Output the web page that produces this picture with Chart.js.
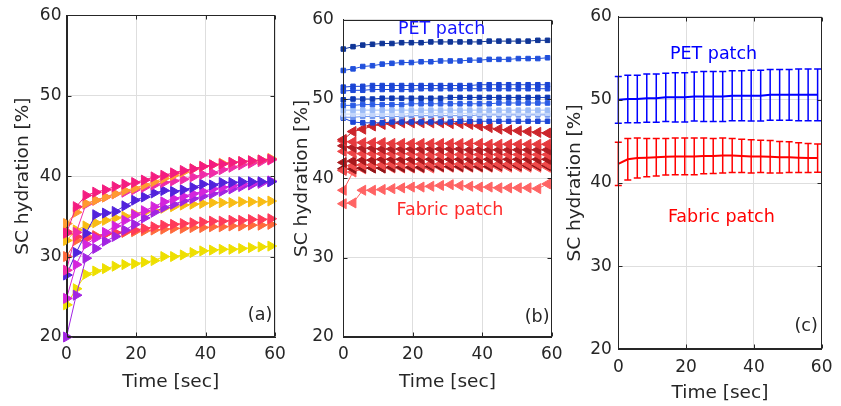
<!DOCTYPE html>
<html>
<head>
<meta charset="utf-8">
<script src="https://cdn.jsdelivr.net/npm/chart.js@4.4.1/dist/chart.umd.min.js"></script>
<style>
  html, body { margin: 0; padding: 0; background: #fff; }
  #wrap { position: relative; width: 841px; height: 406px; }
  #wrap canvas { position: absolute; left: 0; top: 0; }
</style>
</head>
<body>
<div id="wrap">
  <canvas id="panelA" width="841" height="406"></canvas>
  <canvas id="panelB" width="841" height="406"></canvas>
  <canvas id="panelC" width="841" height="406"></canvas>
</div>
<script>
// sampling times (s), shared by all three panels
const seconds = [0, 2.8, 5.6, 8.4, 11.2, 14, 16.8, 19.6, 22.4, 25.2, 28, 30.8, 33.6, 36.4, 39.2, 42, 44.8, 47.6, 50.4, 53.2, 56, 58.8];
const xTicks = [0, 20, 40, 60];
const yTicks = [20, 30, 40, 50, 60];

// (a) individual subjects
const violetA  = [27.7, 30.5, 32.9, 35.2, 35.4, 35.6, 36.3, 37.0, 37.4, 37.9, 38.2, 38.1, 38.3, 38.6, 39.0, 38.9, 39.2, 39.2, 39.3, 39.3, 39.3, 39.3];
const purpleA  = [20.0, 25.2, 29.8, 31.0, 31.9, 32.5, 33.3, 34.0, 34.8, 35.5, 36.1, 36.5, 36.9, 37.2, 37.5, 37.8, 38.1, 38.4, 38.7, 38.9, 39.1, 39.3];
const magentaA = [24.8, 29.0, 31.5, 32.3, 33.0, 33.8, 34.5, 35.2, 35.7, 36.2, 36.8, 37.2, 37.5, 37.8, 38.1, 38.4, 38.6, 38.8, 39.0, 39.1, 39.2, 39.4];
const hotPinkA = [28.3, 33.0, 36.5, 37.0, 37.4, 37.8, 38.0, 38.3, 38.6, 38.9, 39.2, 39.4, 39.6, 39.9, 40.2, 40.4, 40.8, 41.1, 41.4, 41.6, 41.8, 42.0];
const pinkA    = [32.9, 36.2, 37.6, 38.0, 38.3, 38.7, 39.0, 39.2, 39.5, 39.9, 40.1, 40.4, 40.7, 40.9, 41.2, 41.4, 41.5, 41.7, 41.8, 41.9, 42.0, 42.1];
const orangeA  = [34.1, 35.5, 36.6, 37.0, 37.4, 37.8, 38.2, 38.5, 38.9, 39.3, 39.7, 40.1, 40.5, 40.9, 41.2, 41.4, 41.6, 41.7, 41.8, 41.9, 42.0, 42.2];
const redA     = [33.1, 32.5, 32.2, 32.5, 32.8, 33.0, 33.1, 33.3, 33.5, 33.7, 33.9, 34.0, 34.1, 34.2, 34.3, 34.4, 34.4, 34.5, 34.5, 34.6, 34.6, 34.7];
const coralA   = [30.0, 32.0, 32.5, 32.6, 32.8, 32.9, 33.0, 33.1, 33.2, 33.3, 33.4, 33.5, 33.5, 33.6, 33.6, 33.7, 33.7, 33.8, 33.8, 33.9, 33.9, 34.0];
const goldA    = [32.0, 33.3, 33.8, 34.2, 34.5, 34.8, 35.0, 35.3, 35.5, 35.7, 36.0, 36.2, 36.4, 36.5, 36.6, 36.7, 36.7, 36.7, 36.8, 36.8, 36.8, 36.9];
const yellowA  = [24.0, 26.0, 27.8, 28.2, 28.5, 28.8, 29.0, 29.1, 29.3, 29.5, 30.0, 30.0, 30.2, 30.5, 30.7, 30.8, 30.9, 30.9, 31.0, 31.1, 31.2, 31.3];

// (b) PET patch runs
const pet1 = [56.3, 56.6, 56.8, 56.9, 57.0, 57.0, 57.1, 57.1, 57.1, 57.2, 57.2, 57.2, 57.2, 57.2, 57.2, 57.3, 57.3, 57.3, 57.3, 57.3, 57.4, 57.4];
const pet2 = [53.6, 53.8, 54.1, 54.2, 54.4, 54.5, 54.6, 54.6, 54.7, 54.7, 54.8, 54.8, 54.8, 54.9, 54.9, 55.0, 55.0, 55.0, 55.1, 55.1, 55.1, 55.2];
const pet3 = [51.5, 51.6, 51.6, 51.7, 51.7, 51.7, 51.7, 51.7, 51.7, 51.7, 51.7, 51.7, 51.7, 51.7, 51.8, 51.8, 51.8, 51.8, 51.8, 51.8, 51.8, 51.8];
const pet4 = [51.0, 51.1, 51.1, 51.2, 51.2, 51.2, 51.2, 51.2, 51.3, 51.3, 51.3, 51.3, 51.3, 51.3, 51.3, 51.3, 51.3, 51.3, 51.3, 51.3, 51.3, 51.3];
const pet5 = [49.9, 50.0, 50.0, 50.0, 50.1, 50.1, 50.1, 50.1, 50.1, 50.1, 50.1, 50.2, 50.2, 50.2, 50.2, 50.2, 50.2, 50.2, 50.2, 50.2, 50.2, 50.2];
const pet6 = [49.2, 49.2, 49.3, 49.3, 49.3, 49.3, 49.3, 49.4, 49.4, 49.4, 49.4, 49.4, 49.4, 49.4, 49.4, 49.4, 49.5, 49.5, 49.5, 49.5, 49.5, 49.5];
const pet7 = [48.6, 48.6, 48.6, 48.6, 48.6, 48.6, 48.6, 48.6, 48.6, 48.6, 48.6, 48.6, 48.6, 48.6, 48.6, 48.6, 48.6, 48.6, 48.6, 48.6, 48.6, 48.6];
const pet8 = [48.1, 48.1, 48.1, 48.1, 48.1, 48.1, 48.1, 48.2, 48.2, 48.2, 48.2, 48.2, 48.2, 48.2, 48.2, 48.2, 48.2, 48.2, 48.2, 48.2, 48.2, 48.2];
const pet9 = [47.7, 47.7, 47.8, 47.8, 47.8, 47.8, 47.8, 47.9, 47.9, 47.9, 47.9, 47.9, 47.9, 47.9, 48.0, 48.0, 48.0, 48.0, 48.0, 48.0, 48.0, 48.0];
const pet10 = [47.6, 47.1, 47.0, 47.0, 47.0, 47.1, 47.1, 47.1, 47.1, 47.1, 47.1, 47.1, 47.2, 47.2, 47.2, 47.2, 47.2, 47.2, 47.2, 47.2, 47.2, 47.2];

// (b) fabric patch runs
const fab1 = [44.9, 45.9, 46.2, 46.6, 46.8, 46.9, 47.0, 47.0, 47.0, 47.0, 47.0, 46.9, 46.9, 46.8, 46.6, 46.4, 46.2, 46.1, 46.0, 45.9, 45.8, 45.7];
const fab2 = [44.7, 44.6, 44.5, 44.5, 44.5, 44.4, 44.4, 44.4, 44.4, 44.4, 44.4, 44.4, 44.4, 44.4, 44.4, 44.3, 44.3, 44.3, 44.3, 44.3, 44.3, 44.3];
const fab3 = [44.1, 43.9, 43.8, 43.8, 43.7, 43.7, 43.7, 43.7, 43.7, 43.7, 43.7, 43.7, 43.7, 43.6, 43.6, 43.6, 43.6, 43.6, 43.6, 43.6, 43.6, 43.6];
const fab4 = [43.4, 43.2, 43.1, 43.1, 43.1, 43.1, 43.1, 43.1, 43.0, 43.0, 43.0, 43.0, 43.0, 43.0, 43.0, 43.0, 43.0, 43.0, 43.0, 43.0, 43.0, 43.0];
const fab5 = [42.0, 42.2, 42.3, 42.3, 42.4, 42.4, 42.4, 42.4, 42.4, 42.4, 42.4, 42.4, 42.4, 42.4, 42.4, 42.4, 42.4, 42.4, 42.4, 42.4, 42.4, 42.4];
const fab6 = [41.0, 41.6, 41.7, 41.7, 41.7, 41.8, 41.8, 41.8, 41.8, 41.8, 41.8, 41.8, 41.8, 41.8, 41.8, 41.8, 41.8, 41.8, 41.8, 41.8, 41.8, 41.8];
const fab7 = [41.2, 41.2, 41.3, 41.3, 41.3, 41.4, 41.4, 41.4, 41.4, 41.5, 41.5, 41.5, 41.5, 41.5, 41.5, 41.5, 41.6, 41.6, 41.6, 41.6, 41.6, 41.6];
const fab8 = [38.5, 40.8, 41.2, 41.3, 41.3, 41.3, 41.3, 41.3, 41.3, 41.3, 41.4, 41.4, 41.4, 41.4, 41.4, 41.4, 41.4, 41.4, 41.4, 41.4, 41.4, 41.4];
const fab9 = [36.8, 36.9, 38.5, 38.5, 38.6, 38.7, 38.8, 38.9, 38.9, 39.0, 39.1, 39.2, 39.1, 39.0, 38.9, 38.9, 38.8, 38.8, 38.8, 38.8, 38.7, 39.3];

// (c) mean and standard deviation per patch
const petMean = [50.0, 50.1, 50.1, 50.2, 50.2, 50.3, 50.3, 50.3, 50.4, 50.4, 50.4, 50.4, 50.5, 50.5, 50.5, 50.5, 50.6, 50.6, 50.6, 50.6, 50.6, 50.6];
const petSd   = [2.8, 2.85, 2.85, 2.9, 2.9, 2.9, 2.95, 2.95, 2.95, 3.0, 3.0, 3.0, 3.0, 3.0, 3.05, 3.05, 3.05, 3.05, 3.05, 3.1, 3.1, 3.1];
const fabMean = [42.3, 42.85, 43.0, 43.05, 43.1, 43.15, 43.2, 43.2, 43.2, 43.25, 43.25, 43.3, 43.3, 43.25, 43.2, 43.2, 43.15, 43.1, 43.1, 43.05, 43.0, 43.0];
const fabSd   = [2.6, 2.5, 2.4, 2.3, 2.25, 2.2, 2.2, 2.2, 2.2, 2.15, 2.1, 2.1, 2.05, 2.0, 2.0, 1.95, 1.95, 1.9, 1.85, 1.8, 1.75, 1.7];

const ink = '#262626';
const gridColor = '#dedede';
const FONT = '"DejaVu Sans", Arial, sans-serif';

const xy = arr => arr.map((v, i) => ({ x: seconds[i], y: v }));

function markerLine(values, color, style, rotation, radius) {
  return {
    data: xy(values),
    borderColor: color,
    borderWidth: 1,
    pointStyle: style,
    pointRotation: rotation,
    pointRadius: radius,
    pointBackgroundColor: color,
    pointBorderColor: color,
    pointBorderWidth: 1,
    tension: 0,
    clip: false
  };
}

// box, inward ticks, error bars and text notes
const matlabAxes = {
  id: 'matlabAxes',
  afterDatasetsDraw(chart) {
    const { ctx, scales: { x, y } } = chart;
    ctx.save();
    chart.data.datasets.forEach(ds => {
      if (!ds.errorBars) return;
      ctx.strokeStyle = ds.borderColor;
      ctx.lineWidth = 1.5;
      ds.data.forEach((p, i) => {
        const px = x.getPixelForValue(p.x);
        const top = y.getPixelForValue(p.y + ds.errorBars[i]);
        const bot = y.getPixelForValue(p.y - ds.errorBars[i]);
        ctx.beginPath();
        ctx.moveTo(px, top); ctx.lineTo(px, bot);
        ctx.moveTo(px - 3.5, top); ctx.lineTo(px + 3.5, top);
        ctx.moveTo(px - 3.5, bot); ctx.lineTo(px + 3.5, bot);
        ctx.stroke();
      });
    });
    ctx.restore();
  },
  afterDraw(chart, args, opts) {
    const { ctx, chartArea: a, scales: { x, y } } = chart;
    ctx.save();
    ctx.strokeStyle = ink;
    ctx.lineWidth = 1;
    const l = Math.round(a.left) + 0.5, r = Math.round(a.right) - 0.5;
    const t = Math.round(a.top) + 0.5, b = Math.round(a.bottom) - 0.5;
    ctx.strokeRect(l, t, r - l, b - t);
    ctx.beginPath();
    xTicks.forEach(v => {
      const px = Math.round(x.getPixelForValue(v)) + 0.5;
      ctx.moveTo(px, b); ctx.lineTo(px, b - 4);
      ctx.moveTo(px, t); ctx.lineTo(px, t + 4);
    });
    yTicks.forEach(v => {
      const py = Math.round(y.getPixelForValue(v)) + 0.5;
      ctx.moveTo(l, py); ctx.lineTo(l + 4, py);
      ctx.moveTo(r, py); ctx.lineTo(r - 4, py);
    });
    ctx.stroke();
    ctx.textAlign = 'center';
    ctx.textBaseline = 'middle';
    (opts.notes || []).forEach(n => {
      ctx.fillStyle = n.color;
      ctx.font = n.size + 'px ' + FONT;
      ctx.fillText(n.text, x.getPixelForValue(n.x), y.getPixelForValue(n.y));
    });
    ctx.restore();
  }
};

function panelOptions(p) {
  return {
    responsive: false,
    animation: false,
    events: [],
    layout: { padding: { left: p.padLeft, right: 841 - p.plotRight, top: 15, bottom: 0 } },
    plugins: {
      legend: { display: false },
      tooltip: { enabled: false },
      matlabAxes: { notes: p.notes }
    },
    scales: {
      x: {
        type: 'linear', min: 0, max: 60,
        afterBuildTicks: s => { s.ticks = xTicks.map(v => ({ value: v })); },
        ticks: { color: ink, font: { family: FONT, size: 17 }, padding: p.xTickPad, maxRotation: 0 },
        grid: { color: gridColor, drawTicks: false },
        border: { color: ink },
        title: { display: true, text: 'Time [sec]', color: ink, font: { family: FONT, size: 18.5 }, padding: { top: 0, bottom: p.xTitlePad } },
        afterFit: s => { s.height = 406 - p.plotBottom; }
      },
      y: {
        type: 'linear', min: 20, max: 60,
        afterBuildTicks: s => { s.ticks = yTicks.map(v => ({ value: v })); },
        ticks: { color: ink, font: { family: FONT, size: 17 }, padding: p.yTickPad },
        grid: { color: gridColor, drawTicks: false },
        border: { color: ink },
        title: { display: true, text: 'SC hydration [%]', color: ink, font: { family: FONT, size: 18.5 }, padding: { top: p.yTitlePad, bottom: 0 } },
        afterFit: s => { s.width = p.plotLeft - p.padLeft; }
      }
    }
  };
}

// (a)
new Chart(document.getElementById('panelA'), {
  type: 'line',
  data: {
    datasets: [
      markerLine(pinkA, '#f41c80', 'triangle', 90, 5.8),
      markerLine(orangeA, '#ff9a30', 'triangle', 90, 5.8),
      markerLine(hotPinkA, '#f02ca8', 'triangle', 90, 5.8),
      markerLine(violetA, '#5222dc', 'triangle', 90, 5.8),
      markerLine(magentaA, '#d424dc', 'triangle', 90, 5.8),
      markerLine(purpleA, '#a224e2', 'triangle', 90, 5.8),
      markerLine(goldA, '#f8bc14', 'triangle', 90, 5.8),
      markerLine(redA, '#ff3a5a', 'triangle', 90, 5.8),
      markerLine(coralA, '#ff6a3c', 'triangle', 90, 5.8),
      markerLine(yellowA, '#eedf00', 'triangle', 90, 5.8)
    ]
  },
  options: panelOptions({
    padLeft: 0, plotLeft: 66.5, plotRight: 275, plotBottom: 337,
    yTickPad: 5, yTitlePad: 12, xTickPad: 7.8, xTitlePad: 13.2,
    notes: [{ text: '(a)', x: 55.7, y: 22.7, color: ink, size: 17.5 }]
  }),
  plugins: [matlabAxes]
});

// (b)
new Chart(document.getElementById('panelB'), {
  type: 'line',
  data: {
    datasets: [
      markerLine(pet1, '#0f3597', 'rect', 0, 3.2),
      markerLine(pet2, '#2150dc', 'rect', 0, 3.2),
      markerLine(pet3, '#1a44d4', 'rect', 0, 3.2),
      markerLine(pet4, '#1e4ada', 'rect', 0, 3.2),
      markerLine(pet5, '#0e38b4', 'rect', 0, 3.2),
      markerLine(pet6, '#2b5ce6', 'rect', 0, 3.2),
      markerLine(pet7, '#9dbcf7', 'rect', 0, 3.2),
      markerLine(pet8, '#c4d6fa', 'rect', 0, 3.2),
      markerLine(pet9, '#6f95ef', 'rect', 0, 3.2),
      markerLine(pet10, '#1c45d6', 'rect', 0, 3.2),
      markerLine(fab1, '#cc262c', 'triangle', 270, 5.8),
      markerLine(fab2, '#e63a3e', 'triangle', 270, 5.8),
      markerLine(fab3, '#b21e24', 'triangle', 270, 5.8),
      markerLine(fab4, '#ee4446', 'triangle', 270, 5.8),
      markerLine(fab5, '#a8181c', 'triangle', 270, 5.8),
      markerLine(fab6, '#f04a4a', 'triangle', 270, 5.8),
      markerLine(fab7, '#8e1418', 'triangle', 270, 5.8),
      markerLine(fab8, '#ff5c5c', 'triangle', 270, 5.8),
      markerLine(fab9, '#ff6464', 'triangle', 270, 5.8)
    ]
  },
  options: panelOptions({
    padLeft: 280, plotLeft: 343.3, plotRight: 551.7, plotBottom: 337,
    yTickPad: 9.5, yTitlePad: 11, xTickPad: 7.8, xTitlePad: 13.2,
    notes: [
      { text: 'PET patch', x: 28.3, y: 58.76, color: '#1414ff', size: 17.5 },
      { text: 'Fabric patch', x: 30.7, y: 35.9, color: '#ff2a2a', size: 17.5 },
      { text: '(b)', x: 55.8, y: 22.5, color: ink, size: 17.5 }
    ]
  }),
  plugins: [matlabAxes]
});

// (c)
new Chart(document.getElementById('panelC'), {
  type: 'line',
  data: {
    datasets: [
      { data: xy(petMean), errorBars: petSd, borderColor: '#0000ff', borderWidth: 2, pointRadius: 0, clip: false },
      { data: xy(fabMean), errorBars: fabSd, borderColor: '#ff0000', borderWidth: 2, pointRadius: 0, clip: false }
    ]
  },
  options: panelOptions({
    padLeft: 560, plotLeft: 618.3, plotRight: 828.7, plotBottom: 349.3,
    yTickPad: 6.5, yTitlePad: 4, xTickPad: 8.5, xTitlePad: 1.9,
    notes: [
      { text: 'PET patch', x: 28.1, y: 55.4, color: '#0000ff', size: 17.5 },
      { text: 'Fabric patch', x: 30.4, y: 35.9, color: '#ff0000', size: 17.5 },
      { text: '(c)', x: 55.4, y: 22.7, color: ink, size: 17.5 }
    ]
  }),
  plugins: [matlabAxes]
});
</script>
</body>
</html>
